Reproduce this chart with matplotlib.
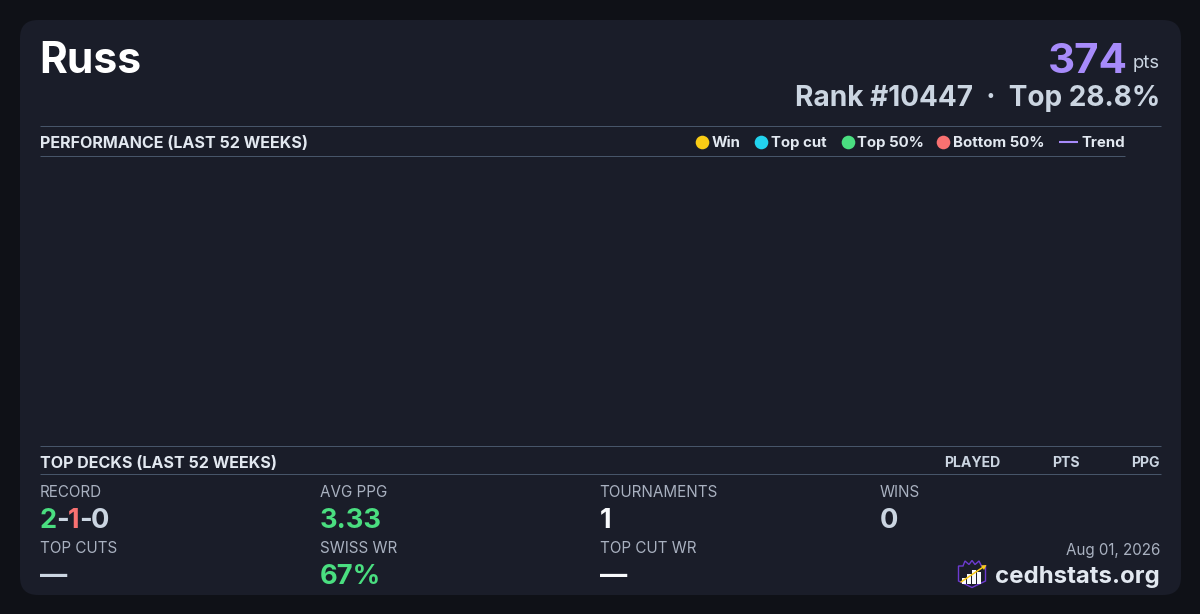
import matplotlib
matplotlib.use("Agg")
import matplotlib.pyplot as plt
from matplotlib.patches import FancyBboxPatch, Polygon, Rectangle

plt.rcParams['font.family'] = ['Inter', 'DejaVu Sans']

PLAYER = "Russ"
POINTS = "374"
RANK_LINE = "Rank #10447  ·  Top 28.8%"
PERF_TITLE = "PERFORMANCE (LAST 52 WEEKS)"
DECK_TITLE = "TOP DECKS (LAST 52 WEEKS)"
LEGEND_LABELS = ["Win", "Top cut", "Top 50%", "Bottom 50%"]
LEGEND_COLORS = ["#facc15", "#22d3ee", "#4ade80", "#f87171"]
LEGEND_X = [702, 761, 847.5, 943]
LEGEND_TEXT_X = [712, 771, 857, 953]
DECK_COLUMNS = ["PLAYED", "PTS", "PPG"]
DECK_COLUMN_X = [1000, 1080, 1160]
STAT_LABELS = ["RECORD", "AVG PPG", "TOURNAMENTS", "WINS", "TOP CUTS", "SWISS WR", "TOP CUT WR"]
STAT_VALUES = [None, "3.33", "1", "0", "—", "67%", "—"]
STAT_X = [40, 320, 600, 880, 40, 320, 600]
STAT_ROW = [0, 0, 0, 0, 1, 1, 1]
STAT_COLORS = [None, "#4ade80", "#f8fafc", "#cbd5e1", "#cbd5e1", "#4ade80", "#f8fafc"]
DATE = "Aug 01, 2026"
BRAND = "cedhstats.org"

W, H = 1200, 614
fig = plt.figure(figsize=(W / 100, H / 100), dpi=100, facecolor="#0f1117")
ax = fig.add_axes([0, 0, 1, 1])
ax.set_xlim(0, W)
ax.set_ylim(H, 0)
ax.axis("off")


def px(size):
    return size * 0.72


def txt(x, y, s, size, color, weight="normal", ha="left"):
    return ax.text(x, y, s, fontsize=px(size), color=color, fontweight=weight,
                   ha=ha, va="baseline", family=['Inter', 'DejaVu Sans'])


ax.add_patch(FancyBboxPatch((20, 20), 1161, 575, boxstyle="round,pad=0,rounding_size=18",
                            fc="#1a1d29", ec="none"))

# Header
txt(39.7, 73, PLAYER, 42.6, "#ffffff", "bold")
txt(1127.5, 73, POINTS, 42, "#a78bfa", "bold", "right")
txt(1160, 68, "pts", 18.5, "#cbd5e1", "normal", "right")
txt(1160, 106, RANK_LINE, 28, "#cbd5e1", "bold", "right")

# Rules
RULE = "#475569"
for x0, x1, y in [(40, 1160.5, 126), (40, 1125, 156), (40, 1160.5, 446), (40, 1160.5, 474)]:
    ax.plot([x0, x1], [y, y], color=RULE, lw=0.72, solid_capstyle="butt")

# Performance header + legend
txt(40, 148, PERF_TITLE, 16.1, "#e2e8f0", "bold")
for cx, tx, lab, col in zip(LEGEND_X, LEGEND_TEXT_X, LEGEND_LABELS, LEGEND_COLORS):
    ax.plot([cx], [142], marker="o", ms=9.8, mfc=col, mec="none", ls="none")
    txt(tx, 147, lab, 15, "#e2e8f0", "bold")
ax.plot([1059, 1078], [142, 142], color="#a78bfa", lw=1.5, solid_capstyle="butt")
txt(1081, 147, "Trend", 15, "#e2e8f0", "bold")

# Top decks header
txt(40, 468, DECK_TITLE, 16.1, "#e2e8f0", "bold")
for x, lab in zip(DECK_COLUMN_X, DECK_COLUMNS):
    txt(x, 467, lab, 14.1, "#cbd5e1", "bold", "right")

# Stats
ROW_LABEL_Y = [497, 553]
ROW_VALUE_Y = [528.4, 584.4]
for x, r, lab, val, col in zip(STAT_X, STAT_ROW, STAT_LABELS, STAT_VALUES, STAT_COLORS):
    txt(x - 0.3, ROW_LABEL_Y[r], lab, 15.2, "#a9b1c0")
    if val is not None:
        txt(x - 0.3, ROW_VALUE_Y[r], val, 27.2, col, "bold")

# Record, in three colours
RECORD_PARTS = ["2", "-", "1", "-", "0"]
RECORD_COLORS = ["#4ade80", "#cbd5e1", "#f87171", "#cbd5e1", "#cbd5e1"]
RECORD_X = [39.5, 56.5, 67.5, 79.5, 90.5]
for x, part, col in zip(RECORD_X, RECORD_PARTS, RECORD_COLORS):
    txt(x, 528.4, part, 27.2, col, "bold")

# Footer
txt(1160, 555, DATE, 15.2, "#a9b1c0", "normal", "right")
txt(1160, 583, BRAND, 24, "#e2e8f0", "bold", "right")

# Logo
shield = [(958.5, 566), (963, 566), (965, 561), (969, 564.5), (972, 560.5), (975, 564.5), (979, 561),
          (981.5, 566), (985.5, 566), (985.5, 581), (972, 587.5), (958.5, 581)]
ax.add_patch(Polygon(shield, closed=True, fc="#1a1d29", ec="#6d3bd1", lw=1.0))
BAR_X = [962, 967, 972, 977]
BAR_TOP = [578, 574, 570, 572]
for x0, top in zip(BAR_X, BAR_TOP):
    ax.add_patch(Rectangle((x0, top), 3.5, 583.5 - top, fc="#f8fafc", ec="none", zorder=2))
ax.plot([961, 984], [582, 566.5], color="#facc15", lw=1.1, zorder=6, solid_capstyle="round")
ax.add_patch(Polygon([(986.5, 565), (981, 565.5), (984, 570)], closed=True, fc="#facc15", ec="none", zorder=6))

fig.savefig("out.png", dpi=100, facecolor=fig.get_facecolor())
